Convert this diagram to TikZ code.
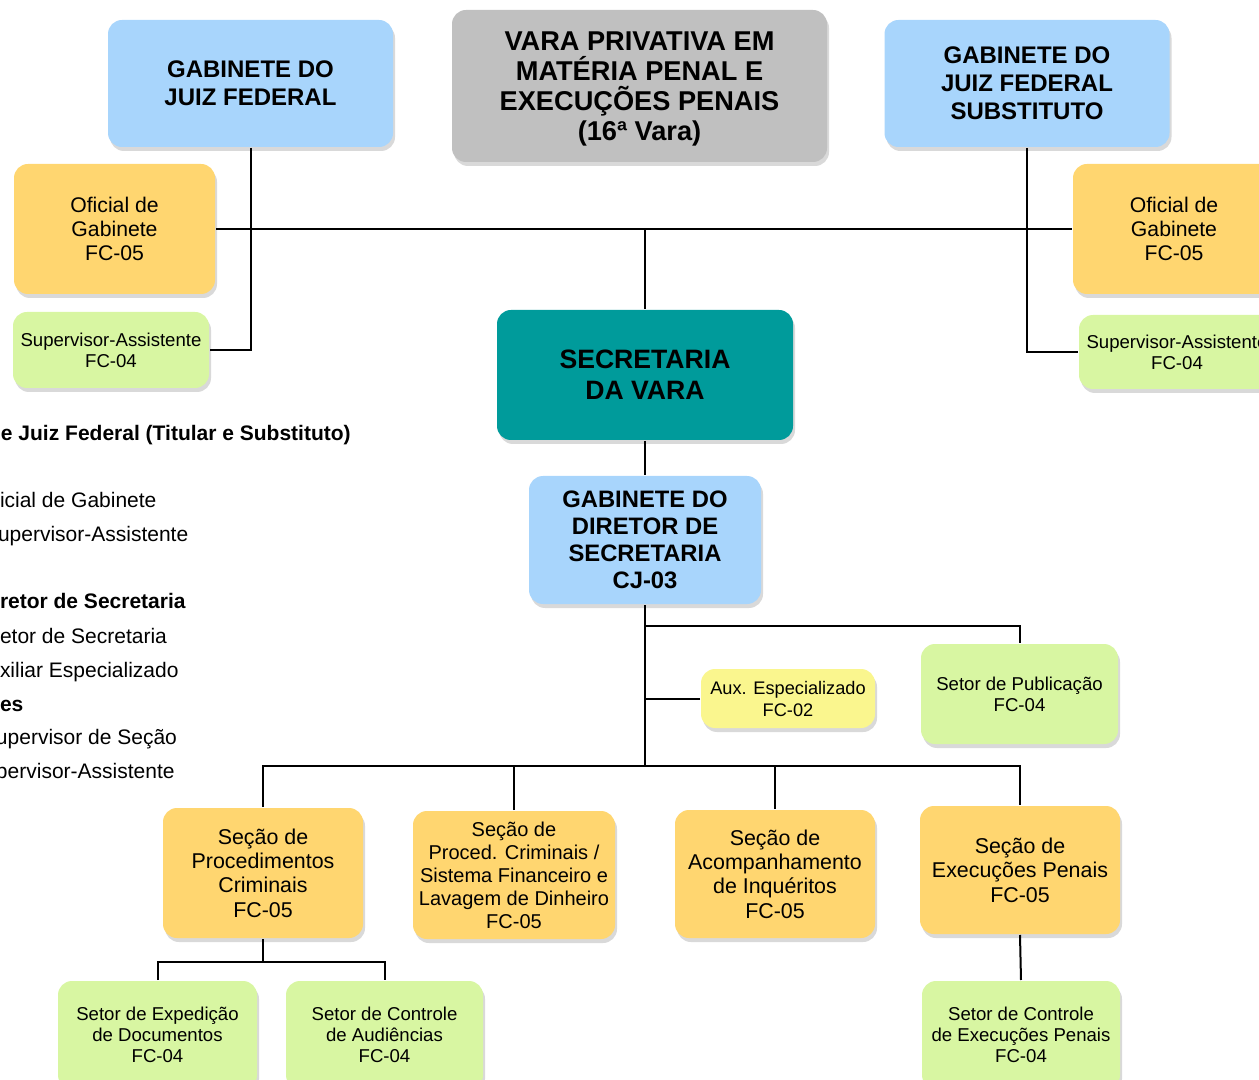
\documentclass[tikz,border=0pt]{standalone}
\usepackage{fontspec}
\setmainfont{Liberation Sans}
\usetikzlibrary{shadows}

\definecolor{gabblue}{RGB}{168,213,252}
\definecolor{varagray}{RGB}{192,192,192}
\definecolor{secteal}{RGB}{0,155,155}
\definecolor{secorange}{RGB}{255,214,112}
\definecolor{setgreen}{RGB}{216,246,162}
\definecolor{auxyellow}{RGB}{250,246,142}

\begin{document}
\begin{tikzpicture}[x=0.5pt,y=-0.5pt,line width=1pt,
		box node/.style={rounded corners=7pt,align=center,inner sep=0pt,
			drop shadow={opacity=0.3,shadow xshift=1pt,shadow yshift=-2pt}},
		blue node/.style={box node,fill=gabblue,font=\fontsize{12}{14}\selectfont\bfseries},
		gray node/.style={box node,fill=varagray,font=\fontsize{13.6}{15}\selectfont\bfseries},
		teal node/.style={box node,fill=secteal,font=\fontsize{13.3}{15.5}\selectfont\bfseries},
		orange node/.style={box node,fill=secorange,font=\fontsize{10.7}{12.2}\selectfont},
		green node/.style={box node,fill=setgreen,font=\fontsize{9.3}{10.5}\selectfont},
		aux node/.style={box node,fill=auxyellow,font=\fontsize{9.1}{11}\selectfont},
		legend/.style={anchor=base west,inner sep=0pt}]
		\useasboundingbox (0,0) rectangle (1259,1080);
		\clip (0,0) rectangle (1259,1080);
		
		% top level
		\node[blue node,minimum width=142.5pt,minimum height=63.5pt] (gjf) at (250.5,83.5) {GABINETE DO\\JUIZ FEDERAL};
		\node[gray node,minimum width=187.5pt,minimum height=76pt,text depth=-3pt] (vara) at (639.5,86) {VARA PRIVATIVA EM\\MATÉRIA PENAL E\\EXECUÇÕES PENAIS\\(16ª Vara)};
		\node[blue node,minimum width=142.5pt,minimum height=63.5pt] (gjfs) at (1027,83.5) {GABINETE DO\\JUIZ FEDERAL\\SUBSTITUTO};
		
		% gabinetes
		\node[orange node,minimum width=100.5pt,minimum height=65pt,font=\fontsize{10.6}{12.2}\selectfont] (ofl) at (114.5,229) {Oficial de\\Gabinete\\FC-05};
		\node[orange node,minimum width=101pt,minimum height=65pt,font=\fontsize{10.6}{12.2}\selectfont] (ofr) at (1174,229) {Oficial de\\Gabinete\\FC-05};
		\node[green node,minimum width=98pt,minimum height=38pt] (supl) at (111,350) {Supervisor-Assistente\\FC-04};
		\node[green node,minimum width=98pt,minimum height=37pt] (supr) at (1177,352) {Supervisor-Assistente\\FC-04};
		
		% secretaria
		\node[teal node,minimum width=148pt,minimum height=65pt] (sec) at (645,375) {SECRETARIA\\DA VARA};
		\node[blue node,minimum width=116pt,minimum height=64pt,font=\fontsize{11.9}{13.5}\selectfont\bfseries] (gdir) at (645,540) {GABINETE DO\\DIRETOR DE\\SECRETARIA\\CJ-03};
		\node[aux node,minimum width=87pt,minimum height=29.5pt] (aux) at (788,698.5) {Aux. Especializado\\FC-02};
		\node[green node,minimum width=98.5pt,minimum height=50pt] (pub) at (1019.5,694) {Setor de Publicação\\FC-04};
		
		% secoes
		\node[orange node,minimum width=100pt,minimum height=65pt] (s1) at (263,873) {Seção de\\Procedimentos\\Criminais\\FC-05};
		\node[orange node,minimum width=101pt,minimum height=64pt,font=\fontsize{10}{11.5}\selectfont] (s2) at (514,875) {Seção de\\Proced. Criminais /\\Sistema Financeiro e\\Lavagem de Dinheiro\\FC-05};
		\node[orange node,minimum width=100pt,minimum height=64pt] (s3) at (775,874) {Seção de\\Acompanhamento\\de Inquéritos\\FC-05};
		\node[orange node,minimum width=100pt,minimum height=64pt] (s4) at (1020,870) {Seção de\\Execuções Penais\\FC-05};
		
		% setores
		\node[green node,minimum width=99.5pt,minimum height=54pt] (e1) at (157.5,1035) {Setor de Expedição\\de Documentos\\FC-04};
		\node[green node,minimum width=98.5pt,minimum height=54pt] (e2) at (384.5,1035) {Setor de Controle\\de Audiências\\FC-04};
		\node[green node,minimum width=99pt,minimum height=54pt] (e3) at (1021,1035) {Setor de Controle\\de Execuções Penais\\FC-04};
		
		\coordinate (topbar) at (645,230);
		\coordinate (pubbar) at (645,626);
		\coordinate (secbar) at (645,766);
		\coordinate (s1bar) at (263,962);
		
		% connectors
		\draw (ofl.east) -- (ofr.west);
		\draw (gjf.south) |- (supl.east);
		\draw (gjfs.south) |- (supr.west);
		\draw (sec.north) -- (topbar);
		\draw (sec.south) -- (gdir.north);
		\draw[line width=1.4pt] (gdir.south) -- (secbar);
		\draw (pubbar) -| (pub.north);
		\draw (aux.west) -- (aux.west -| pubbar);
		\draw (s1.north) |- (secbar) -| (s4.north);
		\draw (s2.north) -- (s2.north |- secbar);
		\draw (s3.north) -- (s3.north |- secbar);
		\draw (s1.south) -- (s1bar);
		\draw (e1.north) |- (s1bar) -| (e2.north);
		\draw (s4.south) -- (e3.north);
		
		% legend (cut by the page edge)
		\foreach \ypos/\xpos/\txt/\fnt in {441/0/e Juiz Federal (Titular e Substituto)/\bfseries,
			508/-1/icial de Gabinete/,542/-3/upervisor-Assistente/,
			609/-1/retor de Secretaria/\bfseries,643/-1/etor de Secretaria/,
			677/-1/xiliar Especializado/,711/-1/es/\bfseries,
			744/-5/upervisor de Seção/,778/-5/pervisor-Assistente/}
		\node[legend,font=\fontsize{10.5}{12}\selectfont\fnt] (leg\ypos) at (\xpos,\ypos) {\txt};
\end{tikzpicture}
\end{document}
